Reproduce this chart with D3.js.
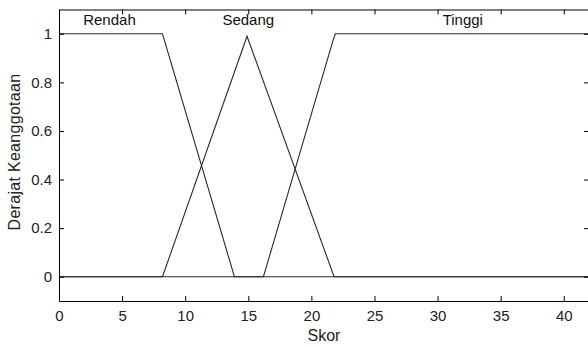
<!DOCTYPE html>
<html>
<head>
<meta charset="utf-8">
<script src="https://cdn.jsdelivr.net/npm/d3@7"></script>
<style>
  html, body { margin: 0; padding: 0; background: #fff; }
  svg { display: block; font-family: "Liberation Sans", Arial, sans-serif; }
</style>
</head>
<body>
<div id="chart"></div>
<script>
const width = 588;
const height = 347;

// axis ticks
const xTicks = [0, 5, 10, 15, 20, 25, 30, 35, 40];
const yTicks = [0, 0.2, 0.4, 0.6, 0.8, 1];

// membership functions, vertices
const mfNames = ["Rendah", "Sedang", "Tinggi"];
const mfLabelX = [4, 15, 32];
const rendahX = [0, 8.2, 13.9, 42];
const rendahY = [1, 1, 0, 0];
const sedangX = [0, 8.2, 14.9, 21.8, 42];
const sedangY = [0, 0, 0.99, 0, 0];
const tinggiX = [0, 16.2, 21.7, 21.9, 42];
const tinggiY = [0, 0, 0.97, 1, 1];

const series = [
    rendahX.map((x, i) => [x, rendahY[i]]),
    sedangX.map((x, i) => [x, sedangY[i]]),
    tinggiX.map((x, i) => [x, tinggiY[i]])
];

const x = d3.scaleLinear().domain([0, 42]).range([59, 589]);
const y = d3.scaleLinear().domain([-0.1, 1.1]).range([301, 9.5]);

const svg = d3.select("#chart")
    .append("svg")
    .attr("width", width)
    .attr("height", height);

// lines
const line = d3.line().x(d => x(d[0])).y(d => y(d[1]));
svg.append("g")
    .selectAll("path")
    .data(series)
    .join("path")
    .attr("d", line)
    .attr("fill", "none")
    .attr("stroke", "#2a2a2a")
    .attr("stroke-width", 1.1);

// mf labels
svg.append("g")
    .selectAll("text")
    .data(mfNames)
    .join("text")
    .attr("x", (d, i) => x(mfLabelX[i]))
    .attr("y", 25)
    .attr("text-anchor", "middle")
    .attr("font-size", 15)
    .attr("fill", "#111")
    .text(d => d);

// axes, ticks inward like matlab
const tickLen = 5;
const axisBottom = d3.axisBottom(x).tickValues(xTicks).tickSizeInner(-tickLen).tickSizeOuter(0).tickPadding(9);
const axisTop = d3.axisTop(x).tickValues(xTicks).tickSizeInner(-tickLen).tickSizeOuter(0).tickFormat("");
const axisLeft = d3.axisLeft(y).tickValues(yTicks).tickSizeInner(-tickLen).tickSizeOuter(0).tickPadding(7).tickFormat(d3.format("~g"));
const axisRight = d3.axisRight(y).tickValues(yTicks).tickSizeInner(-tickLen).tickSizeOuter(0).tickFormat("");

svg.append("g").attr("transform", `translate(0,${y(-0.1)})`).call(axisBottom);
svg.append("g").attr("transform", `translate(0,${y(1.1)})`).call(axisTop);
svg.append("g").attr("transform", `translate(${x(0)},0)`).call(axisLeft);
svg.append("g").attr("transform", `translate(${x(42)},0)`).call(axisRight);

svg.selectAll(".domain").attr("stroke", "#000");
svg.selectAll(".tick line").attr("stroke", "#000");
svg.selectAll(".tick text")
    .attr("font-size", 15)
    .attr("font-family", "Liberation Sans, Arial, sans-serif")
    .attr("fill", "#222");

// axis titles
svg.append("text")
    .attr("x", (x(0) + x(42)) / 2)
    .attr("y", 341)
    .attr("text-anchor", "middle")
    .attr("font-size", 16)
    .attr("fill", "#222")
    .text("Skor");

svg.append("text")
    .attr("transform", `translate(20,152) rotate(-90)`)
    .attr("text-anchor", "middle")
    .attr("font-size", 16)
    .attr("letter-spacing", 0.3)
    .attr("fill", "#222")
    .text("Derajat Keanggotaan");
</script>
</body>
</html>
